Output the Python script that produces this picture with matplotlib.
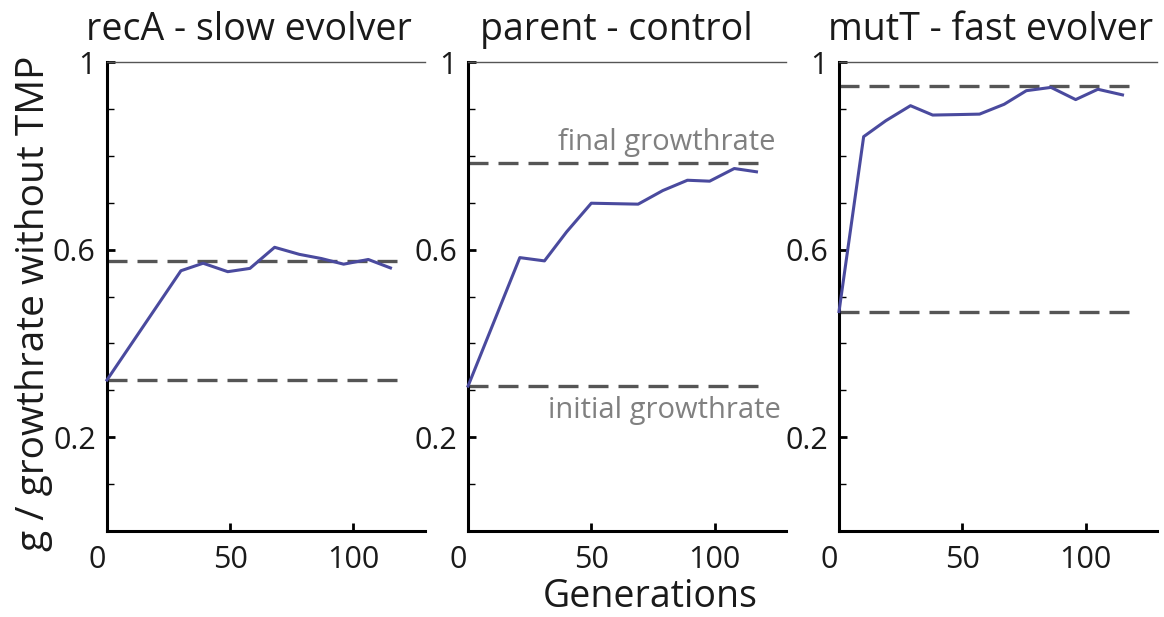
import numpy as np
import matplotlib.pyplot as plt
import matplotlib.transforms as mtransforms
from matplotlib.ticker import MultipleLocator, FixedLocator

plt.rcParams['font.family'] = ['Open Sans', 'DejaVu Sans']

# growth rate relative to growth without TMP, per generation
gen_recA = [0, 30, 39, 49, 58, 68, 78, 87, 96, 106, 115]
g_recA = [0.322, 0.555, 0.571, 0.553, 0.560, 0.605, 0.590, 0.581, 0.569, 0.579, 0.561]

gen_parent = [0, 21, 31, 40, 50, 69, 79, 89, 98, 108, 117]
g_parent = [0.309, 0.583, 0.576, 0.638, 0.699, 0.697, 0.726, 0.748, 0.746, 0.773, 0.766]

gen_mutT = [0, 10, 19, 29, 38, 48, 57, 67, 76, 86, 96, 105, 115]
g_mutT = [0.468, 0.841, 0.875, 0.907, 0.887, 0.888, 0.889, 0.910, 0.939, 0.946, 0.920, 0.942, 0.930]

titles = ['recA - slow evolver', 'parent - control', 'mutT - fast evolver']
initial_rates = [0.322, 0.309, 0.468]
final_rates = [0.576, 0.784, 0.949]
gens = [gen_recA, gen_parent, gen_mutT]
rates = [g_recA, g_parent, g_mutT]

line_col = '#4a4a9e'
dash_col = '#555555'

fig = plt.figure(figsize=(11.64, 6.17), dpi=100)
lefts = [0.0919, 0.4021, 0.7208]
title_x = [0.447, 0.465, 0.478]

for i in range(3):
    ax = fig.add_axes([lefts[i], 0.1394, 0.2732, 0.760])
    ax.plot(gens[i], rates[i], color=line_col, lw=2.2, zorder=3, clip_on=False)
    ax.plot([0, 118], [initial_rates[i]] * 2, color=dash_col, lw=2.4, dashes=(6, 3), zorder=2)
    ax.plot([0, 118], [final_rates[i]] * 2, color=dash_col, lw=2.4, dashes=(6, 3), zorder=2)

    ax.set_xlim(0, 129)
    ax.set_ylim(0, 1)
    ax.spines['right'].set_visible(False)
    ax.spines['top'].set_color('#555555')
    ax.spines['top'].set_linewidth(1.0)
    ax.spines['left'].set_linewidth(2.2)
    ax.spines['bottom'].set_linewidth(2.2)

    ax.xaxis.set_major_locator(FixedLocator([0, 50, 100]))
    ax.yaxis.set_major_locator(FixedLocator([0.2, 0.6, 1.0]))
    ax.yaxis.set_minor_locator(MultipleLocator(0.1))
    ax.set_yticklabels(['0.2', '0.6', '1'])
    ax.tick_params(direction='in', length=6, width=2, labelsize=22, pad=8, labelcolor='#1a1a1a')
    ax.tick_params(axis='y', which='minor', direction='in', length=5, width=1)
    ax.tick_params(axis='x', pad=10)

    # nudge the "0" label a little to the left
    t0 = ax.xaxis.get_major_ticks()[0]
    t0.label1.set_transform(t0.label1.get_transform() +
                            mtransforms.ScaledTranslation(-0.1, 0, fig.dpi_scale_trans))

    ax.text(title_x[i], 1.047, titles[i], transform=ax.transAxes, ha='center', va='baseline',
            fontsize=27, color='#1a1a1a')

    if i == 0:
        ax.set_ylabel('g / growthrate without TMP', fontsize=28, color='#1a1a1a')
        ax.yaxis.set_label_coords(-0.17, 0.486)
    if i == 1:
        ax.text(0.572, -0.162, 'Generations', transform=ax.transAxes, ha='center',
                va='baseline', fontsize=27, color='#1a1a1a')
        ax.text(124.8, 0.812, 'final growthrate', ha='right', va='baseline',
                fontsize=21, color='#808080')
        ax.text(127, 0.241, 'initial growthrate', ha='right', va='baseline',
                fontsize=21, color='#808080')

fig.savefig('out.png', dpi=100)
